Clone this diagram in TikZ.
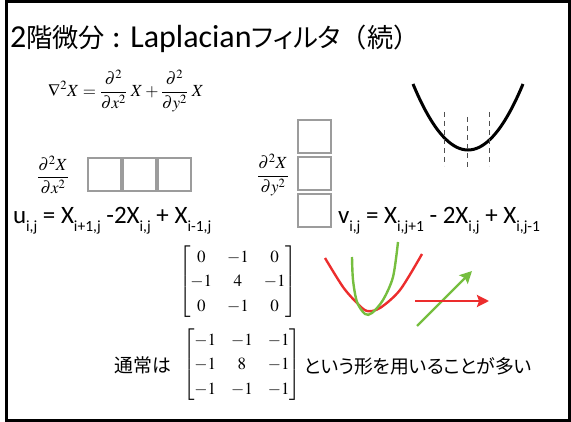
\documentclass[tikz,border=0pt]{standalone}
\usepackage{amsmath}
\usepackage{mathptmx}
\usepackage[no-math]{fontspec}
\setmainfont{Carlito}
\newfontfamily\jp{Noto Sans CJK JP}[Scale=0.82,RawFeature=+palt]
\newfontfamily\jpfull{Noto Sans CJK JP}[Scale=0.82]
\usetikzlibrary{arrows.meta,positioning}
\definecolor{cellgray}{HTML}{9C9C9C}
\definecolor{guidegray}{HTML}{505050}
\definecolor{curvered}{HTML}{EC2D2D}
\definecolor{curvegreen}{HTML}{76BE3F}
\newcommand{\idx}[1]{\raisebox{-0.3em}{\fontsize{15.5}{15.5}\selectfont #1}}

\begin{document}
\begin{tikzpicture}[
  x=1pt, y=-1pt,
  every node/.style={inner sep=0pt, outer sep=0pt},
  titletext/.style={font=\fontsize{32}{36}\selectfont},
  eqtext/.style={font=\fontsize{17}{20}\selectfont},
  bodytext/.style={font=\fontsize{25}{30}\selectfont},
  jptext/.style={font=\fontsize{23}{28}\selectfont\jp},
  mat/.style={font=\fontsize{17}{19}\selectfont\setlength{\arraycolsep}{7.5pt}\renewcommand{\arraystretch}{1.3}},
  cell/.style={draw=cellgray, line width=1.8pt, minimum width=33pt, minimum height=33pt},
  guide/.style={guidegray, line width=0.9pt, dash pattern=on 5pt off 4pt},
  redarrow/.style={-{Stealth[length=12pt,width=12pt,inset=2pt]}, curvered, line width=2.4pt},
  greenarrow/.style={-{Stealth[length=12pt,width=12pt,inset=2pt]}, curvegreen, line width=2.4pt},
]
\useasboundingbox (0,0) rectangle (571,422);
\draw[line width=3pt] (6,2) rectangle (569.5,420.5);

% Title and continuous form
\node[titletext, anchor=base west] (title) at (10,48) {2{\jp 階微分} : Laplacian{\jp フィルタ}{\jpfull （続）}};
\node[eqtext] (lapcont) at (126,91) {$\displaystyle \nabla^2 X = \frac{\partial^2}{\partial x^2}\;X + \frac{\partial^2}{\partial y^2}\;X$};

% Second derivative in x
\node[eqtext] (dxx) at (53,175) {$\dfrac{\partial^2 X}{\partial x^2}$};
\node[cell, anchor=north west] (hx1) at (88,158) {};
\node[cell, right=2pt of hx1] (hx2) {};
\node[cell, right=2pt of hx2] (hx3) {};
\node[bodytext, anchor=base west] (ueq) at (13,224) {u\idx{i,j} = X\idx{i+1,j} -2X\idx{i,j} + X\idx{i-1,j}};

% Second derivative in y
\node[eqtext] (dyy) at (273,175) {$\dfrac{\partial^2 X}{\partial y^2}$};
\node[cell, anchor=north west] (vy1) at (298,120) {};
\node[cell, below=4pt of vy1] (vy2) {};
\node[cell, below=4pt of vy2] (vy3) {};
\node[bodytext, anchor=base west] (veq) at (338,224) {v\idx{i,j} = X\idx{i,j+1} - 2X\idx{i,j} + X\idx{i,j-1}};

% Parabola with sample points
\draw[line width=3pt] plot[domain=-55:55, samples=41, smooth] ({468+\x}, {150-66*(\x/55)*(\x/55)});
\draw[guide] (444,112) -- (444,166);
\draw[guide] (467,117) -- (467,168);
\draw[guide] (489,112) -- (489,166);

% Kernels
\node[mat] (lapfour) at (238,282) {$\begin{bmatrix}0&-1&0\\-1&4&-1\\0&-1&0\end{bmatrix}$};
\node[mat] (lapeight) at (242,365) {$\begin{bmatrix}-1&-1&-1\\-1&8&-1\\-1&-1&-1\end{bmatrix}$};
\node[jptext] (usual) at (143,365) {通常は};
\node[jptext, anchor=west] (often) at (304,366) {という形を用いることが多い};

% Curvature sketch
\draw[curvered, line width=2.4pt] plot[smooth] coordinates {(325,258) (343,287) (357,303) (367,311) (380,308) (400,290) (422,254)};
\draw[curvegreen, line width=2.4pt] plot[smooth] coordinates {(352,257) (353,280) (357,302) (365,314) (372,313) (383,300) (393,277) (398,242)};
\coordinate (gfrom) at (417,326);
\coordinate (gto) at (472,271);
\coordinate (rfrom) at (415,301);
\coordinate (rto) at (489,301);
\draw[greenarrow] (gfrom) -- (gto);
\draw[redarrow] (rfrom) -- (rto);
\end{tikzpicture}
\end{document}
